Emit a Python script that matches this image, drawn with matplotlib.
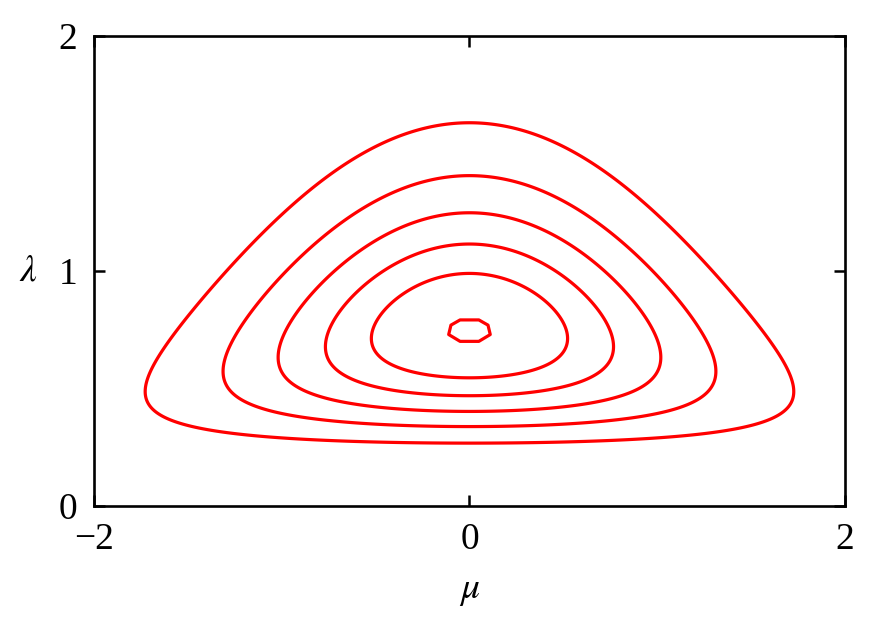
import matplotlib
matplotlib.use("Agg")
import matplotlib.pyplot as plt
import numpy as np

plt.rcParams['font.family'] = ['Liberation Serif', 'DejaVu Serif']
plt.rcParams['mathtext.fontset'] = 'stix'

# lambda where each closed orbit crosses mu = 0 at the top
lam_top = [1.631, 1.406, 1.248, 1.115, 0.990]
lam_top_inner = [0.801]

# energy-like function whose level sets are the orbits
c_lam = 0.83
a_mu = 0.74
b_mu = 0.035

def energy(mu, lam):
    return lam**2 + c_lam / lam + lam * mu**2 * (a_mu + b_mu * mu**2)

levels = sorted(energy(0.0, l) for l in lam_top)
levels_inner = [energy(0.0, l) for l in lam_top_inner]

fig = plt.figure(figsize=(8.71, 6.21), dpi=100)
ax = fig.add_axes([0.108, 0.185, 0.862, 0.757])

# smooth outer orbits on a fine grid
mu = np.linspace(-2, 2, 801)
lam = np.linspace(0.01, 2.0, 600)
M, L = np.meshgrid(mu, lam)
ax.contour(M, L, energy(M, L), levels=levels, colors='#ff0000', linewidths=2.3)

# the innermost orbit comes out as an octagon in the original (coarse grid)
mu_c = np.arange(-1.95, 2.0, 0.1)
lam_c = np.arange(0.01, 2.0, 0.04)
Mc, Lc = np.meshgrid(mu_c, lam_c)
ax.contour(Mc, Lc, energy(Mc, Lc), levels=levels_inner, colors='#ff0000',
           linewidths=2.3)

ax.set_xlim(-2, 2)
ax.set_ylim(0, 2)
ax.set_xticks([-2, 0, 2])
ax.set_yticks([0, 1, 2])
ax.set_xticklabels(['\u22122', '0', '2'])
ax.tick_params(direction='in', length=8, width=1.8, labelsize=27,
               top=True, right=True, pad=12)
for s in ax.spines.values():
    s.set_linewidth(1.9)

ax.set_xlabel(r'$\mu$', fontsize=27, labelpad=12)
ax.set_ylabel(r'$\lambda$', fontsize=27, rotation=0, labelpad=22, va='center')

plt.savefig("out.png", dpi=100)
